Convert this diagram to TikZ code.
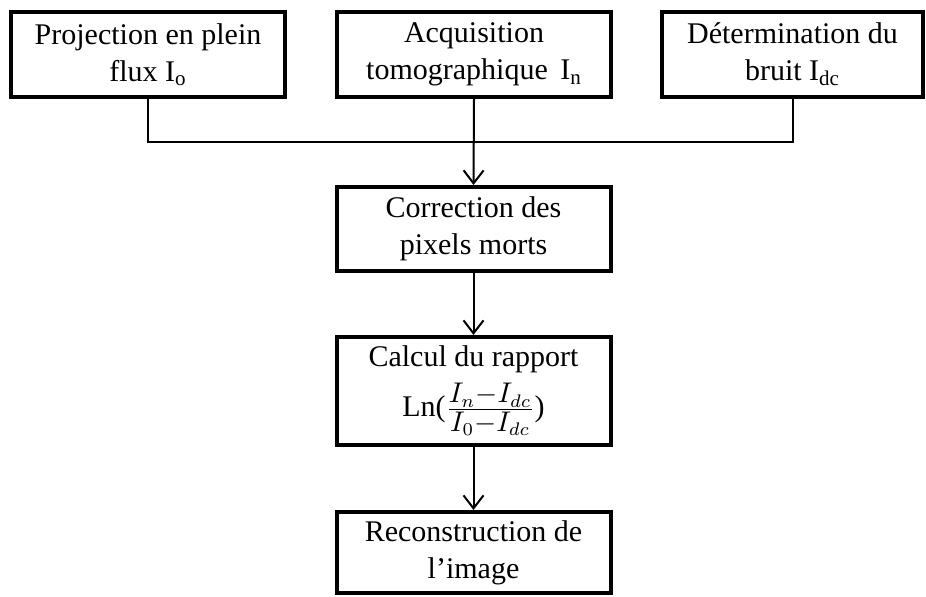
\documentclass[tikz,border=0pt]{standalone}
\usepackage{fontspec}
\setmainfont{Liberation Serif}
\usepackage{amsmath}
\usetikzlibrary{arrows.meta,positioning}

\begin{document}
\begin{tikzpicture}[x=0.5pt,y=-0.5pt,
		box/.style={draw, line width=2pt, align=center, inner sep=0pt,
			minimum width=137pt, font=\fontsize{15}{18.5}\selectfont},
		link/.style={line width=1pt},
		flow/.style={link, -{Straight Barb[length=6.5pt,width=10pt]}}]
		\useasboundingbox (0,0) rectangle (926,597);

		\node[box, minimum height=42.5pt] (proj) at (148,54.5) {Projection en plein\\flux I\textsubscript{o}};
		\node[box, minimum height=42.5pt] (acq) at (474,54.5) {Acquisition\\tomographique\, I\textsubscript{n}};
		\node[box, minimum height=42.5pt, minimum width=130.5pt] (bruit) at (792.5,54.5) {Détermination du\\bruit I\textsubscript{dc}};
		\node[box, minimum height=42pt] (corr) at (473.5,229) {Correction des\\pixels morts};
		\node[box, minimum height=54pt] (calc) at (473.5,391) {Calcul du rapport\\[4pt]Ln(\raisebox{-1pt}{\scalebox{1.3}{$\frac{I_n-I_{dc}}{I_0-I_{dc}}$}})};
		\node[box, minimum height=40.5pt] (recon) at (473.5,552.5) {Reconstruction de\\l’image};

		\coordinate (junc) at (474,142);

		\draw[link] (proj.south) |- (junc) -| (bruit.south);
		\draw[flow] (acq.south) -- (corr.north);
		\draw[flow] (corr.south) -- (calc.north);
		\draw[flow] (calc.south) -- (recon.north);
	\end{tikzpicture}
\end{document}
